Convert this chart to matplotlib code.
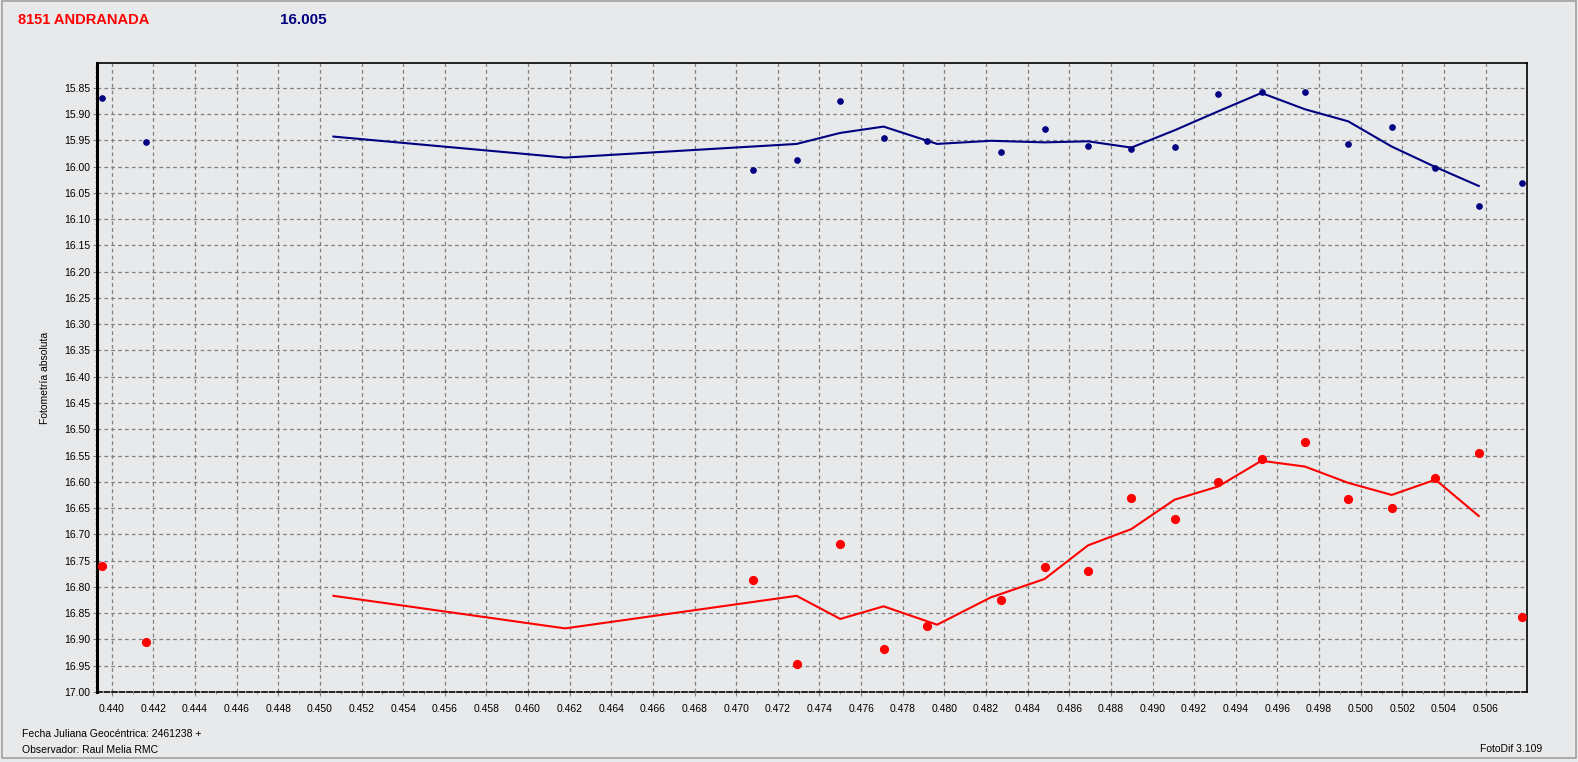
import matplotlib.pyplot as plt
from matplotlib.ticker import MultipleLocator, FormatStrFormatter
from matplotlib.patches import Rectangle

plt.rcParams['font.family'] = ['Liberation Sans', 'DejaVu Sans']

obs_x = [0.43952, 0.44163, 0.47080, 0.47291, 0.47499, 0.47709, 0.47915,
         0.48271, 0.48484, 0.48689, 0.48897, 0.49107, 0.49313, 0.49526,
         0.49731, 0.49938, 0.50151, 0.50359, 0.50567, 0.50774]
comp_mag = [15.870, 15.954, 16.007, 15.988, 15.876, 15.946, 15.952,
            15.973, 15.929, 15.961, 15.967, 15.963, 15.862, 15.858,
            15.858, 15.957, 15.925, 16.003, 16.075, 16.031]
ast_mag = [16.760, 16.904, 16.787, 16.946, 16.718, 16.918, 16.874,
           16.825, 16.762, 16.769, 16.631, 16.671, 16.600, 16.556,
           16.524, 16.632, 16.650, 16.593, 16.545, 16.857]

# smoothed curves (vertices)
curve_x = [0.45065, 0.46178, 0.47290, 0.47500, 0.47708, 0.47965, 0.48223,
           0.48481, 0.48690, 0.48898, 0.49106, 0.49315, 0.49523, 0.49732,
           0.49940, 0.50149, 0.50359, 0.50567]
comp_curve = [15.943, 15.983, 15.957, 15.936, 15.924, 15.957, 15.951,
              15.954, 15.952, 15.964, 15.931, 15.895, 15.860, 15.891,
              15.914, 15.962, 16.001, 16.037]
ast_curve = [16.817, 16.879, 16.817, 16.861, 16.837, 16.872, 16.820,
             16.785, 16.721, 16.690, 16.634, 16.609, 16.560, 16.571,
             16.602, 16.625, 16.596, 16.665]

bg = '#e8e9eb'
navy = '#000080'
red = '#ff0000'

fig = plt.figure(figsize=(15.78, 7.62), dpi=100, facecolor=bg)
ax = fig.add_axes([0.0613, 0.0919, 0.9064, 0.8254], facecolor=bg)

# frame around the window
fig.patches.append(Rectangle((0.0015, 0.005), 0.997, 0.994, transform=fig.transFigure,
                             fill=False, edgecolor='#a0a0a0', linewidth=1.2))

ax.plot(curve_x, comp_curve, color=navy, linewidth=1.5, zorder=3)
ax.plot(curve_x, ast_curve, color=red, linewidth=1.5, zorder=3)
ax.plot(obs_x, comp_mag, 'o', color=navy, markersize=3.8, zorder=4)
ax.plot(obs_x, ast_mag, 'o', color=red, markersize=5.6, zorder=4)

ax.set_xlim(0.43928, 0.50799)
ax.set_ylim(17.0, 15.803)

ax.xaxis.set_major_locator(MultipleLocator(0.002))
ax.xaxis.set_minor_locator(MultipleLocator(0.001))
ax.xaxis.set_major_formatter(FormatStrFormatter('%.3f'))
ax.yaxis.set_major_locator(MultipleLocator(0.05))
ax.yaxis.set_minor_locator(MultipleLocator(0.01))
ax.yaxis.set_major_formatter(FormatStrFormatter('%.2f'))

ax.grid(True, which='major', color='#808080', linestyle=(0, (3, 2.5)), linewidth=0.9)
ax.tick_params(which='major', length=3, width=0.8, color='#808080', labelsize=7.5)
ax.tick_params(which='minor', length=1.5, width=0.7, color='#909090')
ax.tick_params(axis='x', pad=6)
ax.tick_params(axis='y', pad=1.5)

for side in ['top', 'right']:
    ax.spines[side].set_linewidth(1.2)
    ax.spines[side].set_color('black')
ax.spines['left'].set_linewidth(2.2)
ax.spines['left'].set_color('black')
ax.spines['bottom'].set_linewidth(1.2)
ax.spines['bottom'].set_linestyle((0, (3, 1.5)))
ax.spines['bottom'].set_color('black')

ax.set_ylabel('Fotometría absoluta', fontsize=7.5, labelpad=10)

fig.text(0.0116, 0.974, '8151 ANDRANADA', color=red, fontsize=10.5,
         fontweight='bold', va='center', ha='left')
fig.text(0.1775, 0.974, '16.005', color=navy, fontsize=11,
         fontweight='bold', va='center', ha='left')
fig.text(0.014, 0.0367, 'Fecha Juliana Geocéntrica: 2461238 +', fontsize=7.5,
         va='center', ha='left')
fig.text(0.014, 0.0157, 'Observador: Raul Melia RMC', fontsize=7.5,
         va='center', ha='left')
fig.text(0.9775, 0.017, 'FotoDif 3.109', fontsize=7.5, va='center', ha='right')

fig.savefig('out.png', dpi=100, facecolor=bg)
